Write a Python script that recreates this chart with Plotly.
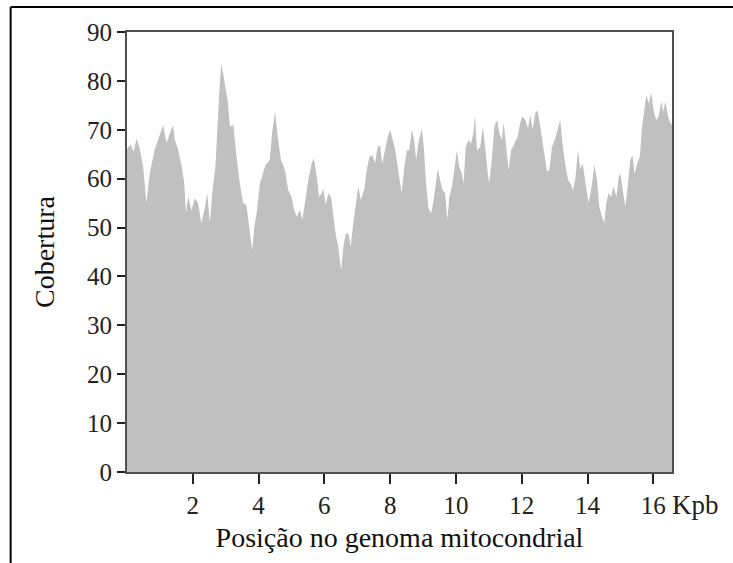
import plotly.graph_objects as go

pos_kb = [0.00, 0.11, 0.20, 0.29, 0.39, 0.49, 0.59, 0.69, 0.84, 1.00, 1.10, 1.20, 1.28, 1.40, 1.45,
          1.55, 1.66, 1.74, 1.79, 1.86, 1.96, 2.06, 2.16, 2.26, 2.37, 2.44, 2.52, 2.60, 2.69, 2.77,
          2.82, 2.87, 2.95, 3.06, 3.13, 3.23, 3.33, 3.43, 3.53, 3.63, 3.74, 3.81, 3.87, 3.94, 4.04,
          4.14, 4.21, 4.34, 4.41, 4.50, 4.58, 4.68, 4.80, 4.90, 5.00, 5.08, 5.16, 5.26, 5.33, 5.41,
          5.51, 5.61, 5.68, 5.77, 5.84, 5.92, 5.97, 6.04, 6.12, 6.20, 6.27, 6.34, 6.42, 6.51, 6.58,
          6.65, 6.73, 6.80, 6.88, 6.95, 7.03, 7.11, 7.21, 7.29, 7.37, 7.46, 7.54, 7.62, 7.69, 7.76,
          7.84, 7.93, 8.00, 8.07, 8.15, 8.23, 8.30, 8.35, 8.43, 8.51, 8.58, 8.66, 8.73, 8.79, 8.86,
          8.96, 9.03, 9.09, 9.16, 9.24, 9.31, 9.39, 9.45, 9.52, 9.59, 9.67, 9.74, 9.80, 9.88, 9.95,
          10.03, 10.10, 10.18, 10.23, 10.30, 10.38, 10.46, 10.53, 10.58, 10.64, 10.74, 10.82, 10.89,
          10.97, 11.01, 11.09, 11.17, 11.25, 11.32, 11.40, 11.45, 11.52, 11.60, 11.68, 11.78, 11.88,
          11.95, 12.02, 12.11, 12.19, 12.26, 12.33, 12.41, 12.48, 12.54, 12.62, 12.69, 12.77, 12.84,
          12.92, 13.02, 13.10, 13.17, 13.24, 13.32, 13.41, 13.48, 13.56, 13.63, 13.71, 13.78, 13.85,
          13.93, 14.03, 14.11, 14.21, 14.29, 14.36, 14.44, 14.51, 14.57, 14.64, 14.72, 14.79, 14.88,
          14.95, 15.00, 15.07, 15.15, 15.23, 15.30, 15.37, 15.43, 15.51, 15.59, 15.66, 15.73, 15.79,
          15.86, 15.94, 16.01, 16.09, 16.16, 16.24, 16.30, 16.37, 16.45, 16.52, 16.569]

cobertura = [66, 67, 65.5, 68.2, 66, 62.5, 55, 61, 65.9, 69.3, 71, 67.3, 68.9, 71, 68,
             66, 62.6, 59.1, 53, 56.3, 53.5, 56, 55, 50.9, 54.2, 57, 51, 57.6, 62.6, 74,
             79.5, 83.5, 80.2, 76, 70.6, 71, 64.5, 59, 55, 54.6, 48.8, 45.4, 50.2, 52.9, 59,
             61, 62.8, 63.8, 69.3, 73.7, 68.6, 63.8, 61.8, 57.7, 56.3, 53.6, 52.2, 53.6, 51.6, 55,
             59.7, 63.1, 64.2, 60.4, 56.3, 57, 58, 54.6, 57, 56.3, 52.2, 48.8, 46.1, 41.3, 46.1,
             48.8, 48.8, 46.1, 50.9, 54.2, 58.4, 55.6, 57.7, 61.8, 64.5, 64.8, 63.1, 66.5, 66.9, 63.1,
             65.8, 68.6, 70, 67.9, 66, 62.5, 59.7, 57, 62.4, 65.8, 65.8, 70, 67.9, 63.8, 67.2,
             70.3, 65.8, 59, 54.2, 52.9, 55, 59, 62.1, 59.7, 57.7, 57, 51.6, 56.3, 58.4, 61.8,
             65.8, 62.4, 61, 59, 66.5, 67.9, 67.2, 69.3, 73, 65.8, 66.5, 70.7, 65.5,
             61, 59, 63.8, 70.7, 72, 69.3, 67.9, 71.6, 66.5, 61.8, 65.8, 67.2, 68.6,
             71.4, 72.7, 72, 70.3, 73, 70, 73.4, 74, 71.6, 67.9, 64.5, 61.4, 61.8,
             66.5, 68.2, 70, 72, 67.2, 63.1, 59.7, 59, 57.7, 60, 65.8, 62, 63.1,
             59, 55, 57.7, 62.8, 59.7, 54.2, 52.2, 50.9, 55, 57, 56.3, 58.4, 56.3,
             60.4, 61, 57.7, 54.2, 59, 63.8, 64.8, 61, 63.1, 64.5, 70.7, 74, 77.1,
             75.4, 77.5, 74, 72, 72.7, 75.8, 73.7, 75.8, 72.7, 71.4, 71]

x_ticks = [2, 4, 6, 8, 10, 12, 14, 16]
y_ticks = [0, 10, 20, 30, 40, 50, 60, 70, 80, 90]

FONT = "Liberation Serif, Times New Roman, serif"

fig = go.Figure()
fig.add_trace(go.Scatter(
    x=pos_kb, y=cobertura, mode="lines", fill="tozeroy",
    line=dict(width=0, color="#c0c0c0"), fillcolor="#c0c0c0",
    hoverinfo="skip", showlegend=False))

axis_common = dict(showline=True, linecolor="#505050", linewidth=2, mirror=True,
                   showgrid=False, zeroline=False, ticks="outside", tickcolor="#222222",
                   tickwidth=2, tickfont=dict(family=FONT, size=25, color="#222222"))

fig.update_xaxes(range=[0, 16.569], tickvals=x_ticks, ticktext=[str(v) for v in x_ticks],
                 ticklen=10, title=dict(text="Posição no genoma mitocondrial", standoff=9,
                                        font=dict(family=FONT, size=28, color="#111111")),
                 **axis_common)
fig.update_yaxes(range=[0, 90], tickvals=y_ticks, ticklen=8,
                 title=dict(text="Cobertura", standoff=24,
                            font=dict(family=FONT, size=28, color="#111111")),
                 **axis_common)

fig.add_annotation(x=16, y=0, xref="x", yref="paper", text="Kpb", showarrow=False,
                   xanchor="left", yanchor="top", xshift=17, yshift=-16,
                   font=dict(family=FONT, size=27, color="#222222"))

# outer frame (top and left edges of the figure border)
fig.add_shape(type="line", xref="paper", yref="paper", x0=-0.2135, x1=1.2, y0=1.0568, y1=1.0568,
              line=dict(color="black", width=2))
fig.add_shape(type="line", xref="paper", yref="paper", x0=-0.2135, x1=-0.2135, y0=-0.3, y1=1.0568,
              line=dict(color="black", width=2))

fig.update_layout(width=733, height=563, margin=dict(l=127, r=61, t=32, b=91),
                  paper_bgcolor="white", plot_bgcolor="white")

fig.write_html("out.html")
